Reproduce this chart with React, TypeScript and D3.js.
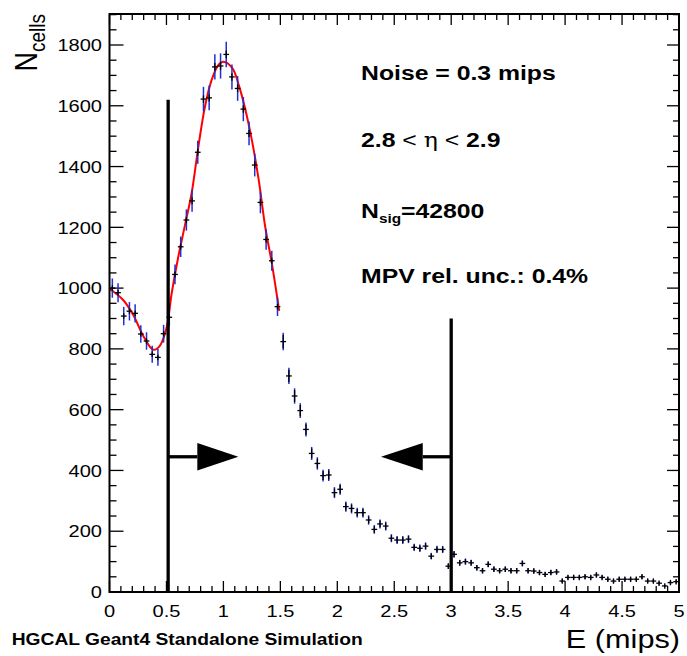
import React from "react";
import * as d3 from "d3";

// ---- data ----
const binLow = 0;
const binWidth = 0.05;
const counts = [
  1000, 985, 908, 924, 917, 849, 826, 782, 772, 850,
  904, 1045, 1136, 1224, 1287, 1447, 1622, 1626, 1728, 1731,
  1769, 1695, 1657, 1589, 1509, 1405, 1282, 1160, 1090, 939,
  824, 711, 645, 597, 535, 456, 423, 383, 385, 327,
  338, 281, 275, 261, 261, 237, 206, 224, 217, 177,
  171, 171, 174, 147, 144, 151, 118, 140, 140, 85,
  124, 96, 100, 96, 80, 70, 91, 75, 70, 75,
  70, 70, 94, 70, 69, 64, 58, 64, 66, 36,
  48, 48, 48, 50, 48, 56, 48, 42, 36, 42,
  42, 42, 42, 50, 36, 36, 29, 20, 31, 34,
];
const fitX = [0, 0.12, 0.21, 0.3, 0.385, 0.44, 0.5, 0.546, 0.604, 0.663, 0.721, 0.78, 0.838, 0.897, 0.955, 1.0, 1.08, 1.135, 1.19, 1.25, 1.31, 1.367, 1.425, 1.49];
const fitY = [998, 961, 911, 840, 797, 809, 868, 983, 1103, 1208, 1312, 1465, 1597, 1685, 1734, 1745, 1723, 1668, 1592, 1487, 1356, 1202, 1082, 925];
const fitEnd = 1.5;
const xTickValues = [0, 0.5, 1, 1.5, 2, 2.5, 3, 3.5, 4, 4.5, 5];
const xTickLabels = ["0", "0.5", "1", "1.5", "2", "2.5", "3", "3.5", "4", "4.5", "5"];
const yTickValues = [0, 200, 400, 600, 800, 1000, 1200, 1400, 1600, 1800];
const yTickLabels = ["0", "200", "400", "600", "800", "1000", "1200", "1400", "1600", "1800"];
const cutLow = { x: 0.515, top: 1620 };
const cutHigh = { x: 3, top: 900 };
const arrowY = 445;
const arrowLeft = { base: 0.771, tip: 1.131 };
const arrowRight = { base: 2.75, tip: 2.384 };
const infoLines = ["Noise = 0.3 mips", "MPV rel. unc.: 0.4%"];
const footer = "HGCAL Geant4 Standalone Simulation";
const xTitle = "E (mips)";

// ---- layout ----
const W = 687, H = 656;
const L = 109.5, R = 679, T = 14, B = 592;
const SX = 1.18; // horizontal stretch of text
const FONT = "'Liberation Sans', Arial, Helvetica, sans-serif";

const x = d3.scaleLinear().domain([0, 5]).range([L, R]);
const y = d3.scaleLinear().domain([0, 1902]).range([B, T]);

function T_({ x: tx, y: ty, size, anchor = "start", bold = false, children }: any) {
  return (
    <text
      transform={`translate(${tx},${ty}) scale(${SX},1)`}
      fontFamily={FONT}
      fontSize={size}
      fontWeight={bold ? "bold" : "normal"}
      textAnchor={anchor}
      fill="#000"
    >
      {children}
    </text>
  );
}

export default function App() {
  const line = d3
    .line<number>()
    .x((_, i) => x(fitX[i]))
    .y((d) => y(d))
    .curve(d3.curveCatmullRom.alpha(0.5));
  const fitPath = line(fitY) || "";

  const xMinor = d3.range(0, 5.0001, 0.1);
  const yMinor = d3.range(0, 1901, 50);

  const halfPx = (x(binWidth) - x(0)) / 2;

  return (
    <svg width={W} height={H} style={{ position: "absolute", left: 0, top: 0, background: "#fff" }}>
      <rect x={0} y={0} width={W} height={H} fill="#fff" />
      {/* ticks */}
      <g stroke="#000" strokeWidth={1.3}>
        {xMinor.map((v, i) => {
          const major = Math.abs(v * 2 - Math.round(v * 2)) < 1e-6;
          const len = major ? 11 : 6;
          return (
            <g key={"xt" + i}>
              <line x1={x(v)} x2={x(v)} y1={B} y2={B - len} />
              <line x1={x(v)} x2={x(v)} y1={T} y2={T + len} />
            </g>
          );
        })}
        {yMinor.map((v, i) => {
          const major = v % 200 === 0;
          return (
            <g key={"yt" + i}>
              <line x1={L} x2={L + (major ? 14 : 7)} y1={y(v)} y2={y(v)} />
              <line x1={R} x2={R - (major ? 12 : 6)} y1={y(v)} y2={y(v)} />
            </g>
          );
        })}
      </g>
      {/* fit */}
      <path d={fitPath} fill="none" stroke="#ff0000" strokeWidth={2} />
      {/* data */}
      {counts.map((c, i) => {
        const cx = x(binLow + binWidth * (i + 0.5));
        const err = Math.sqrt(c);
        const inFit = binLow + binWidth * (i + 0.5) < fitEnd;
        const berr = inFit ? Math.max(err * 0.3, 9) : Math.max(err * 0.75, 9);
        return (
          <g key={"p" + i}>
            <line x1={cx} x2={cx} y1={y(c + err)} y2={y(c - err)} stroke="#1e2fd8" strokeWidth={1.5} />
            <line x1={cx} x2={cx} y1={y(c + berr)} y2={y(c - berr)} stroke="#000" strokeWidth={1.3} />
            <line x1={cx - halfPx} x2={cx + halfPx} y1={y(c)} y2={y(c)} stroke="#000" strokeWidth={1.3} />
          </g>
        );
      })}
      {/* cut lines and arrows */}
      <g stroke="#000" strokeWidth={3.3}>
        <line x1={x(cutLow.x)} x2={x(cutLow.x)} y1={y(0)} y2={y(cutLow.top)} />
        <line x1={x(cutHigh.x)} x2={x(cutHigh.x)} y1={y(0)} y2={y(cutHigh.top)} />
        <line x1={x(cutLow.x)} x2={x(arrowLeft.base)} y1={y(arrowY)} y2={y(arrowY)} />
        <line x1={x(cutHigh.x)} x2={x(arrowRight.base)} y1={y(arrowY)} y2={y(arrowY)} />
      </g>
      <path
        d={`M${x(arrowLeft.base)},${y(arrowY) - 13.7}L${x(arrowLeft.tip)},${y(arrowY)}L${x(arrowLeft.base)},${y(arrowY) + 13.7}Z`}
        fill="#000"
      />
      <path
        d={`M${x(arrowRight.base)},${y(arrowY) - 13.7}L${x(arrowRight.tip)},${y(arrowY)}L${x(arrowRight.base)},${y(arrowY) + 13.7}Z`}
        fill="#000"
      />
      {/* frame */}
      <rect x={L} y={T} width={R - L} height={B - T} fill="none" stroke="#000" strokeWidth={2} />
      {/* tick labels */}
      {xTickValues.map((v, i) => (
        <T_ key={"xl" + i} x={x(v)} y={617} size={17} anchor="middle">
          {xTickLabels[i]}
        </T_>
      ))}
      {yTickValues.map((v, i) => (
        <T_ key={"yl" + i} x={102} y={y(v) + 6.2} size={17} anchor="end">
          {yTickLabels[i]}
        </T_>
      ))}
      {/* axis titles */}
      <T_ x={680} y={648} size={26} anchor="end">
        {xTitle}
      </T_>
      <text
        transform={`translate(37,${T}) scale(${SX},1) rotate(-90)`}
        fontFamily={FONT}
        fontSize={27}
        textAnchor="end"
      >
        N
        <tspan fontSize={19} dy={6.8}>
          cells
        </tspan>
      </text>
      {/* info text */}
      <T_ x={361} y={80} size={21} bold>
        {infoLines[0]}
      </T_>
      <T_ x={361} y={147} size={21} bold>
        2.8
        <tspan fontWeight="normal"> &lt; </tspan>
        <tspan fontWeight="normal" fontFamily="'DejaVu Serif', serif" fontSize={20}>
          η
        </tspan>
        <tspan fontWeight="normal"> &lt; </tspan>
        2.9
      </T_>
      <T_ x={361} y={218} size={21} bold>
        N
        <tspan fontSize={13} dy={5}>
          sig
        </tspan>
        <tspan dy={-5}>=42800</tspan>
      </T_>
      <T_ x={361} y={282.5} size={21} bold>
        {infoLines[1]}
      </T_>
      {/* footer */}
      <T_ x={11.7} y={645} size={16.3} bold>
        {footer}
      </T_>
    </svg>
  );
}
